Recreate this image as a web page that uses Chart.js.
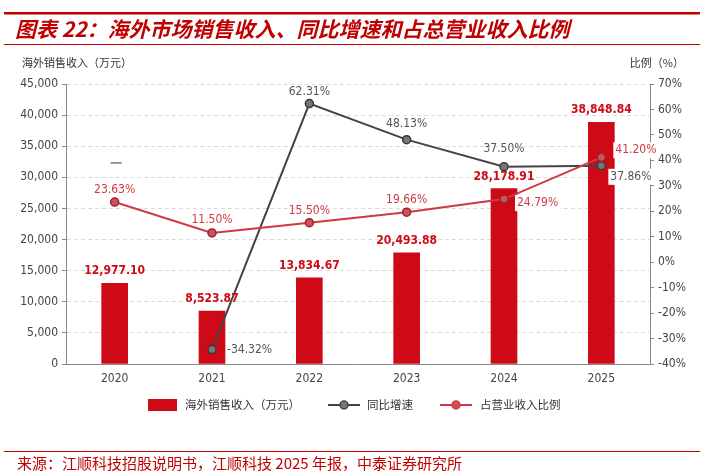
<!DOCTYPE html>
<html>
<head>
<meta charset="utf-8">
<script src="https://cdn.jsdelivr.net/npm/chart.js@4.4.1/dist/chart.umd.min.js"></script>
<style>
  html, body { margin: 0; padding: 0; background: #fff; }
  canvas { display: block; }
</style>
</head>
<body>
<canvas id="chart" width="705" height="475"></canvas>
<script>
// data
const years = ['2020', '2021', '2022', '2023', '2024', '2025'];
const revenue = [12977.10, 8523.87, 13834.67, 17850, 28178.91, 38848.84]; // drawn bar heights (万元)
const revenueText = ['12,977.10', '8,523.87', '13,834.67', '20,493.88', '28,178.91', '38,848.84'];
const growth = [null, -34.32, 62.31, 48.13, 37.50, 37.86]; // 同比增速 %
const share = [23.63, 11.50, 15.50, 19.66, 24.79, 41.20];  // 占营业收入比例 %

const RED = '#cf0a17';
const LINE_RED = '#cf3a42';
const GRAY = '#555555';
const CJK = '"Noto Sans CJK SC", "Noto Sans", sans-serif';
const NUM = '"DejaVu Sans Condensed", "Noto Sans", sans-serif';

// label placement around each point: [dx, dy, align, whiteBox]
const growthPlace = [null, [15, 0, 'left'], [0, -12, 'center'], [0, -16, 'center'], [0, -18, 'center'], [9, 11, 'left', true]];
const sharePlace = [[0, -12, 'center'], [0, -13, 'center'], [0, -12, 'center'], [0, -12, 'center'], [13, 4, 'left', true], [14, -7, 'left', true]];

function fmtPct(v) { return v.toFixed(2) + '%'; }

const decor = {
  id: 'decor',
  afterDatasetsDraw(chart) {
    const ctx = chart.ctx;
    const y1 = chart.scales.y1;
    ctx.save();
    ctx.textBaseline = 'middle';

    // bar value labels
    ctx.font = 'bold 12px ' + NUM;
    ctx.fillStyle = RED;
    ctx.textAlign = 'center';
    chart.getDatasetMeta(0).data.forEach((bar, i) => {
      ctx.fillText(revenueText[i], bar.x, bar.y - 12);
    });

    function pointLabels(meta, values, place, color) {
      ctx.font = '12px ' + NUM;
      meta.data.forEach((pt, i) => {
        const p = place[i];
        if (values[i] === null || !p) return;
        const txt = fmtPct(values[i]);
        const x = pt.x + p[0], y = pt.y + p[1];
        ctx.textAlign = p[2];
        if (p[3]) {
          const w = ctx.measureText(txt).width;
          const bx = p[2] === 'left' ? x - 2 : x - w / 2 - 2;
          ctx.fillStyle = '#fff';
          ctx.fillRect(bx, y - 8, w + 4, 16);
        }
        ctx.fillStyle = color;
        ctx.fillText(txt, x, y);
      });
    }
    pointLabels(chart.getDatasetMeta(1), growth, growthPlace, GRAY);
    pointLabels(chart.getDatasetMeta(2), share, sharePlace, LINE_RED);

    // missing growth value for 2020 shown as a dash
    const x0 = chart.scales.x.getPixelForValue(0);
    ctx.strokeStyle = '#777';
    ctx.lineWidth = 1.5;
    ctx.beginPath();
    ctx.moveTo(x0 - 4, y1.getPixelForValue(39));
    ctx.lineTo(x0 + 7, y1.getPixelForValue(39));
    ctx.stroke();
    ctx.restore();
  },
  afterDraw(chart) {
    const ctx = chart.ctx;
    ctx.save();
    // title block
    ctx.fillStyle = '#c00000';
    ctx.fillRect(4, 12, 696, 2.5);
    ctx.fillRect(4, 44, 696, 1);
    ctx.font = 'italic bold 21px ' + CJK;
    ctx.textBaseline = 'middle';
    ctx.textAlign = 'left';
    ctx.fillText('图表 22：海外市场销售收入、同比增速和占总营业收入比例', 15, 29);

    // axis titles
    ctx.fillStyle = '#333';
    ctx.font = '11px ' + CJK;
    ctx.fillText('海外销售收入（万元）', 22, 63);
    ctx.textAlign = 'right';
    ctx.fillText('比例（%）', 684, 63);

    // legend
    const ly = 405;
    ctx.textAlign = 'left';
    ctx.fillStyle = RED;
    ctx.fillRect(148, ly - 6, 29, 12);
    ctx.fillStyle = '#333';
    ctx.font = '11.5px ' + CJK;
    ctx.fillText('海外销售收入（万元）', 185, ly);

    function lineKey(x, color, fill) {
      ctx.strokeStyle = color;
      ctx.lineWidth = 2;
      ctx.beginPath();
      ctx.moveTo(x, ly);
      ctx.lineTo(x + 32, ly);
      ctx.stroke();
      ctx.beginPath();
      ctx.arc(x + 16, ly, 4, 0, Math.PI * 2);
      ctx.fillStyle = fill;
      ctx.fill();
      ctx.lineWidth = 1.5;
      ctx.stroke();
    }
    lineKey(328, '#444', '#777');
    ctx.fillStyle = '#333';
    ctx.fillText('同比增速', 367, ly);
    lineKey(440, LINE_RED, '#c9545b');
    ctx.fillStyle = '#333';
    ctx.fillText('占营业收入比例', 480, ly);

    // source
    ctx.fillStyle = '#c00000';
    ctx.fillRect(4, 451, 696, 1);
    ctx.font = '15px ' + CJK;
    ctx.fillText('来源：江顺科技招股说明书，江顺科技 2025 年报，中泰证券研究所', 17, 463);
    ctx.restore();
  }
};

const ctx = document.getElementById('chart').getContext('2d');
new Chart(ctx, {
  data: {
    labels: years,
    datasets: [
      {
        type: 'bar',
        label: '海外销售收入（万元）',
        data: revenue,
        yAxisID: 'y',
        backgroundColor: RED,
        barThickness: 26,
        order: 2
      },
      {
        type: 'line',
        label: '同比增速',
        data: growth,
        yAxisID: 'y1',
        borderColor: '#444',
        borderWidth: 2,
        pointRadius: 4,
        pointBackgroundColor: '#777',
        pointBorderColor: '#3a3a3a',
        pointBorderWidth: 1.5,
        tension: 0,
        order: 1
      },
      {
        type: 'line',
        label: '占营业收入比例',
        data: share,
        yAxisID: 'y1',
        borderColor: LINE_RED,
        borderWidth: 2,
        pointRadius: 4,
        pointBackgroundColor: '#c9545b',
        pointBorderColor: '#a3202a',
        pointBorderWidth: 1.5,
        tension: 0,
        order: 0
      }
    ]
  },
  options: {
    responsive: false,
    animation: false,
    layout: { padding: { left: 0, right: 0, top: 84, bottom: 81 } },
    plugins: {
      legend: { display: false },
      tooltip: { enabled: false }
    },
    scales: {
      x: {
        offset: true,
        grid: { display: false, drawTicks: false },
        border: { color: '#888', width: 1 },
        ticks: { color: '#444', font: { size: 12, family: NUM }, padding: 8 },
        afterFit: s => { s.height = 30; }
      },
      y: {
        position: 'left',
        min: 0,
        max: 45000,
        ticks: {
          stepSize: 5000,
          color: '#444',
          font: { size: 12, family: NUM },
          padding: 4,
          callback: v => v.toLocaleString('en-US')
        },
        grid: { color: '#dcdcdc', tickColor: '#888', tickLength: 4, tickBorderDash: [], drawTicks: true },
        border: { color: '#888', width: 1, dash: [4, 3] },
        afterFit: s => { s.width = 66; }
      },
      y1: {
        position: 'right',
        min: -40,
        max: 70,
        ticks: {
          stepSize: 10,
          color: '#444',
          font: { size: 12, family: NUM },
          padding: 4,
          callback: v => v + '%'
        },
        grid: { drawOnChartArea: false, tickColor: '#888', tickLength: 4 },
        border: { color: '#888', width: 1 },
        afterFit: s => { s.width = 55; }
      }
    }
  },
  plugins: [decor]
});
</script>
</body>
</html>
